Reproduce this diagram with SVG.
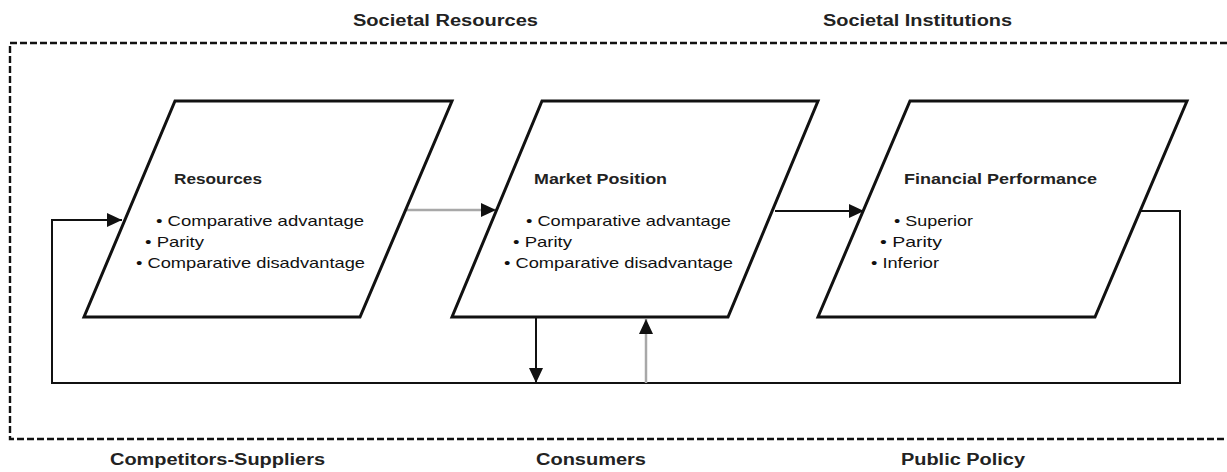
<svg xmlns="http://www.w3.org/2000/svg" width="1227" height="472" viewBox="0 0 1227 472">
  <style>
    .frame { fill: none; stroke: #111; stroke-width: 2.4; stroke-dasharray: 7 3; }
    .box { fill: #fff; stroke: #111; stroke-width: 3; stroke-linejoin: miter; }
    .link { fill: none; stroke: #111; stroke-width: 2; }
    .link-gray { fill: none; stroke: #a8a8a8; stroke-width: 2.5; }
    .label { font-family: "Liberation Sans", Arial, sans-serif; font-size: 16px; font-weight: bold; fill: #222; }
    .title { font-family: "Liberation Sans", Arial, sans-serif; font-size: 15.5px; font-weight: bold; fill: #222; }
    .item { font-family: "Liberation Sans", Arial, sans-serif; font-size: 15px; fill: #111; }
  </style>
  <defs>
    <marker id="arrow-black" markerUnits="userSpaceOnUse" markerWidth="16" markerHeight="16" refX="15" refY="7" orient="auto">
      <path d="M0,0 L15,7 L0,14 z" fill="#111"/>
    </marker>
    <marker id="arrow-gray" markerUnits="userSpaceOnUse" markerWidth="16" markerHeight="16" refX="15" refY="7" orient="auto">
      <path d="M0,0 L15,7 L0,14 z" fill="#111"/>
    </marker>
  </defs>

  <rect width="1227" height="472" fill="#fff"/>

  <!-- environment frame and its labels -->
  <g id="environment">
    <path class="frame" d="M1227,43 H10 V439 H1227"/>
    <text class="label" x="353" y="26" textLength="185" lengthAdjust="spacingAndGlyphs">Societal Resources</text>
    <text class="label" x="823" y="26" textLength="189" lengthAdjust="spacingAndGlyphs">Societal Institutions</text>
    <text class="label" x="110" y="465" textLength="215" lengthAdjust="spacingAndGlyphs">Competitors-Suppliers</text>
    <text class="label" x="536" y="465" textLength="110" lengthAdjust="spacingAndGlyphs">Consumers</text>
    <text class="label" x="901" y="465" textLength="124" lengthAdjust="spacingAndGlyphs">Public Policy</text>
  </g>

  <!-- connectors -->
  <g id="connectors">
    <line class="link-gray" x1="406" y1="210" x2="496" y2="210" marker-end="url(#arrow-gray)"/>
    <line class="link" x1="775" y1="211" x2="864" y2="211" marker-end="url(#arrow-black)"/>
    <path class="link" d="M1140,211 H1180 V383 H52 V220 H122" marker-end="url(#arrow-black)"/>
    <line class="link" x1="536" y1="317" x2="536" y2="383" marker-end="url(#arrow-black)"/>
    <line class="link-gray" x1="646" y1="383" x2="646" y2="319" marker-end="url(#arrow-gray)"/>
  </g>

  <!-- node: resources -->
  <g id="node-resources">
    <polygon class="box" points="175,101 452,101 360,317 84,317"/>
    <text class="title" x="174" y="184" textLength="88" lengthAdjust="spacingAndGlyphs">Resources</text>
    <text class="item" x="156" y="226" textLength="208" lengthAdjust="spacingAndGlyphs">• Comparative advantage</text>
    <text class="item" x="145" y="247" textLength="59" lengthAdjust="spacingAndGlyphs">• Parity</text>
    <text class="item" x="136" y="268" textLength="229" lengthAdjust="spacingAndGlyphs">• Comparative disadvantage</text>
  </g>

  <!-- node: market position -->
  <g id="node-market-position">
    <polygon class="box" points="542,101 818,101 728,317 452,317"/>
    <text class="title" x="534" y="184" textLength="133" lengthAdjust="spacingAndGlyphs">Market Position</text>
    <text class="item" x="526" y="226" textLength="205" lengthAdjust="spacingAndGlyphs">• Comparative advantage</text>
    <text class="item" x="513" y="247" textLength="59" lengthAdjust="spacingAndGlyphs">• Parity</text>
    <text class="item" x="504" y="268" textLength="229" lengthAdjust="spacingAndGlyphs">• Comparative disadvantage</text>
  </g>

  <!-- node: financial performance -->
  <g id="node-financial-performance">
    <polygon class="box" points="910,101 1187,101 1095,317 818,317"/>
    <text class="title" x="904" y="184" textLength="193" lengthAdjust="spacingAndGlyphs">Financial Performance</text>
    <text class="item" x="894" y="226" textLength="79" lengthAdjust="spacingAndGlyphs">• Superior</text>
    <text class="item" x="880" y="247" textLength="62" lengthAdjust="spacingAndGlyphs">•  Parity</text>
    <text class="item" x="871" y="268" textLength="68" lengthAdjust="spacingAndGlyphs">• Inferior</text>
  </g>
</svg>
